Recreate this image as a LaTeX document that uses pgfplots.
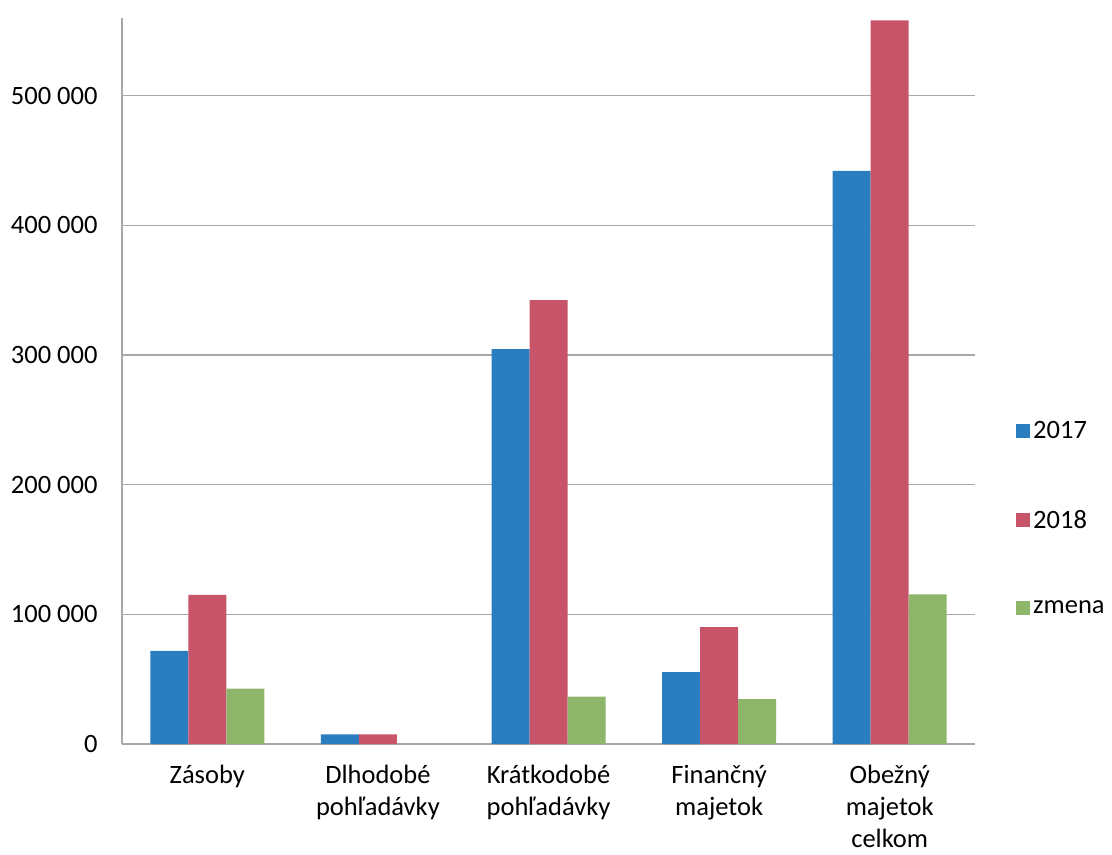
\documentclass[border=0pt]{standalone}
\usepackage{pgfplots}
\pgfplotsset{compat=1.18}
\usepackage{fontspec}
\setmainfont{Carlito}
\definecolor{cblue}{HTML}{2A7DBE}
\definecolor{cred}{HTML}{C85469}
\definecolor{cgreen}{HTML}{8DB66A}
\definecolor{cgrid}{HTML}{A8A8A8}
\begin{document}
\begin{tikzpicture}[font=\fontsize{26.5}{32}\selectfont]
\begin{axis}[
  name=ax,
  scale only axis,
  width=853pt, height=726pt,
  xmin=-0.5, xmax=4.5,
  ymin=0, ymax=560000,
  scaled y ticks=false,
  axis x line*=bottom, axis y line*=left,
  axis line style={cgrid, line width=1.2pt},
  ytick={0,100000,200000,300000,400000,500000},
  yticklabels={0,{100 000},{200 000},{300 000},{400 000},{500 000}},
  xtick={0,1,2,3,4},
  xticklabels={Zásoby,{Dlhodobé\\pohľadávky},{Krátkodobé\\pohľadávky},{Finančný\\majetok},{Obežný\\majetok\\celkom}},
  xticklabel style={align=center, yshift=-18pt},
  yticklabel style={xshift=-21pt},
  major tick length=0pt,
  ymajorgrids,
  grid style={cgrid, line width=1.2pt},
  ybar=0pt,
  bar width=38pt,
  legend style={draw=none, at={([xshift=41pt,yshift=2pt]rel axis cs:1,0.3085)}, anchor=west, row sep=64.5pt, inner sep=0pt, nodes={inner sep=3pt}},
  legend cell align=left,
  legend image code/.code={\fill[#1] (0pt,-7pt) rectangle (14pt,7pt);},
]
\addplot[fill=cblue, draw=none] coordinates {(0,71800) (1,7500) (2,304500) (3,55400) (4,442000)};
\addplot[fill=cred, draw=none] coordinates {(0,115100) (1,7500) (2,342300) (3,90200) (4,558200)};
\addplot[fill=cgreen, draw=none] coordinates {(0,42800) (1,0) (2,36500) (3,34600) (4,115400)};
\legend{2017,2018,zmena}
\end{axis}
\path ([xshift=-122pt,yshift=-111pt]ax.south west) rectangle ([xshift=137pt,yshift=18pt]ax.north east);
\end{tikzpicture}
\end{document}
